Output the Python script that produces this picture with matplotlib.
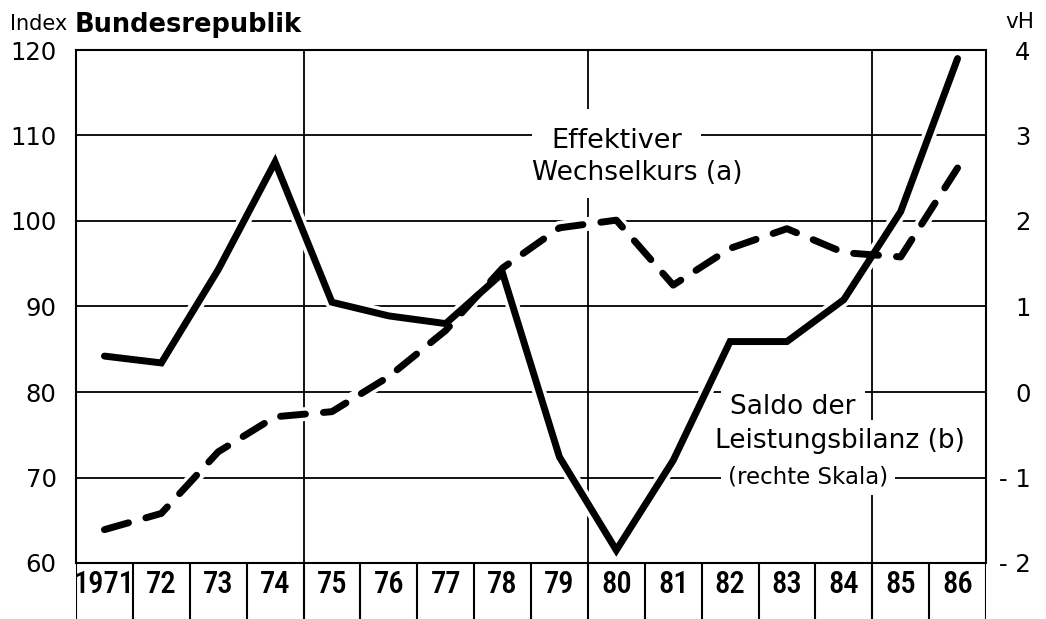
import matplotlib
matplotlib.use("Agg")
import matplotlib.pyplot as plt
import matplotlib.font_manager as fm

# ---------------- data ----------------
years = list(range(1971, 1987))
year_labels = ["1971", "72", "73", "74", "75", "76", "77", "78",
               "79", "80", "81", "82", "83", "84", "85", "86"]
# Effektiver Wechselkurs (Index, linke Skala) - gestrichelt
wechselkurs = [63.9, 65.8, 73.0, 77.1, 77.7, 81.8, 87.2, 94.5,
               99.2, 100.1, 92.5, 96.8, 99.1, 96.3, 95.8, 106.2]
# Saldo der Leistungsbilanz (vH, rechte Skala) - durchgezogen
leistungsbilanz = [0.42, 0.34, 1.43, 2.69, 1.05, 0.89, 0.80, 1.39,
                   -0.76, -1.85, -0.80, 0.59, 0.59, 1.08, 2.11, 3.90]
left_ticks = [60, 70, 80, 90, 100, 110, 120]
right_ticks = [-2, -1, 0, 1, 2, 3, 4]
right_labels = ["- 2", "- 1", "0", "1", "2", "3", "4"]
period_bounds = [1974.5, 1979.5, 1984.5]

# ---------------- fonts ----------------
entries = fm.fontManager.ttflist
names = {f.name for f in entries}
year_font = None
for cand in ["Liberation Sans Narrow", "Roboto Condensed", "Open Sans Condensed",
             "DejaVu Sans Condensed"]:
    if cand in names:
        year_font = dict(family=cand, size=21 if "Narrow" in cand else 22, weight="medium")
        break
if year_font is None:
    cond = [f for f in entries if f.name == "DejaVu Sans" and "condensed" in str(f.stretch)]
    if cond:
        year_font = dict(family="DejaVu Sans", stretch="condensed", size=16.5, weight="bold")
    else:
        year_font = dict(family="DejaVu Sans", size=15, weight="bold")
plt.rcParams["font.family"] = ["DejaVu Sans"]

W, H = 1046, 619
fig = plt.figure(figsize=(W / 100, H / 100), dpi=100)
L, R, T, B = 76, 986, 50, 563
ax = fig.add_axes([L / W, 1 - B / H, (R - L) / W, (B - T) / H])
ax.set_xlim(1970.5, 1986.5)
ax.set_ylim(60, 120)
ax2 = ax.twinx()
ax2.set_ylim(-2, 4)

# grid
ax.set_axisbelow(True)
ax.set_yticks(left_ticks)
ax.set_yticklabels([str(t) for t in left_ticks])
ax.yaxis.grid(True, color="black", lw=1.3, zorder=0.5)
ax.set_xticks([])
for xb in period_bounds:
    ax.axvline(xb, color="black", lw=1.3, zorder=0.6)
ax.tick_params(axis="y", length=0, pad=14, labelsize=17.5)
for s in ax.spines.values():
    s.set_linewidth(1.5)

ax2.set_yticks(right_ticks)
ax2.set_yticklabels(right_labels)
ax2.tick_params(axis="y", length=0, pad=32, labelsize=17.5)
for lab in ax2.get_yticklabels():
    lab.set_horizontalalignment("right")
for s in ax2.spines.values():
    s.set_visible(False)
ax2.patch.set_visible(False)

# white halos (gaps in grid where lines cross)
ax.plot(years, wechselkurs, color="white", lw=10, solid_capstyle="round", zorder=2)
ax.plot(years, leistungsbilanz, color="white", lw=10, solid_capstyle="round",
        zorder=2, transform=ax2.transData)
# lines
ax.plot(years, wechselkurs, color="black", lw=5, dashes=(3.6, 2.6),
        dash_capstyle="round", dash_joinstyle="round", zorder=3)
ax.plot(years, leistungsbilanz, color="black", lw=5, solid_capstyle="round",
        solid_joinstyle="miter", zorder=3, transform=ax2.transData)

# annotations
def box(p):
    return dict(facecolor="white", edgecolor="none", boxstyle=f"square,pad={p}")

ax.text(1980.0, 109.4, "Effektiver", fontsize=19.5, ha="center", va="center",
        zorder=2.5, bbox=box(0.7))
ax.text(1980.36, 105.6, "Wechselkurs (a)", fontsize=19, ha="center", va="center",
        zorder=2.5, bbox=box(0.45))
ax.text(1982.0, 78.25, "Saldo der", fontsize=19, ha="left", va="center",
        zorder=2.5, bbox=box(0.35))
ax.text(1981.73, 74.3, "Leistungsbilanz (b)", fontsize=19, ha="left", va="center",
        zorder=2.5, bbox=box(0.3))
ax.text(1981.96, 70.06, "(rechte Skala)", fontsize=16.5, ha="left", va="center",
        zorder=2.5, bbox=box(0.3))

# year row below the plot
axb = fig.add_axes([L / W, 0, (R - L) / W, (H - B) / H], sharex=ax)
axb.set_ylim(0, 1)
axb.axis("off")
bounds = [y - 0.5 for y in years] + [years[-1] + 0.5]
for xb in bounds:
    axb.axvline(xb, color="black", lw=1.5)
for yr, lab in zip(years, year_labels):
    axb.text(yr, 0.62, lab, ha="center", va="center", **year_font)

# headers
fig.text(10 / W, 1 - 30 / H, "Index", fontsize=15, ha="left", va="baseline")
fig.text(75 / W, 1 - 32 / H, "Bundesrepublik", fontsize=18.5, weight="bold",
         ha="left", va="baseline")
fig.text(1005 / W, 1 - 28 / H, "vH", fontsize=15.5, ha="left", va="baseline")

fig.savefig("out.png", dpi=100)
